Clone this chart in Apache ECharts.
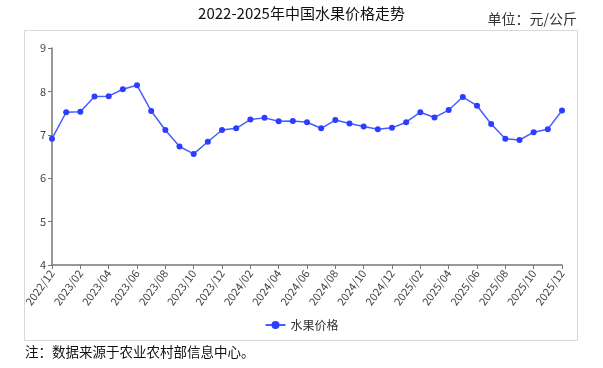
<!DOCTYPE html>
<html>
<head>
<meta charset="utf-8">
<script src="https://cdn.jsdelivr.net/npm/echarts@6/dist/echarts.min.js"></script>
<style>
html,body{margin:0;padding:0;background:#fff;}
#c{width:603px;height:368px;}
</style>
</head>
<body>
<div id="c"></div>
<script>
const titleText = '2022-2025年中国水果价格走势';
const unitText = '单位：元/公斤';
const noteText = '注：数据来源于农业农村部信息中心。';
const seriesName = '水果价格';
const months = [
 '2022/12','2023/01','2023/02','2023/03','2023/04','2023/05','2023/06','2023/07','2023/08','2023/09','2023/10','2023/11',
 '2023/12','2024/01','2024/02','2024/03','2024/04','2024/05','2024/06','2024/07','2024/08','2024/09','2024/10','2024/11',
 '2024/12','2025/01','2025/02','2025/03','2025/04','2025/05','2025/06','2025/07','2025/08','2025/09','2025/10','2025/11','2025/12'
];
const prices = [
 6.91,7.52,7.53,7.88,7.89,8.05,8.14,7.55,7.11,6.73,6.56,6.84,
 7.11,7.15,7.35,7.39,7.31,7.32,7.29,7.15,7.34,7.26,7.19,7.13,
 7.16,7.29,7.52,7.40,7.57,7.87,7.67,7.25,6.91,6.88,7.06,7.13,7.56
];
const yMin = 4, yMax = 9, yStep = 1;

const chart = echarts.init(document.getElementById('c'), null, {renderer:'canvas'});
const font = '"Noto Sans CJK SC", "Noto Sans", sans-serif';
chart.setOption({
  animation:false,
  textStyle:{fontFamily:font},
  graphic:[
    {type:'rect', shape:{x:24.5,y:30.5,width:553,height:310}, style:{fill:'none',stroke:'#d9d9d9',lineWidth:1}, z:-1},
    {type:'text', left:'center', top:6, style:{text:titleText, font:'15px '+font, fill:'#111'}},
    {type:'text', right:26, top:12, style:{text:unitText, font:'14px '+font, fill:'#333'}},
    {type:'text', left:25, top:345, style:{text:noteText, font:'13.5px '+font, fill:'#111'}}
  ],
  legend:{
    data:[seriesName], left:'center', top:314, itemWidth:20, itemHeight:10, itemGap:4,
    textStyle:{fontSize:12,color:'#333',fontFamily:font}
  },
  grid:{left:52, right:41, top:48, bottom:103, containLabel:false},
  xAxis:{
    type:'category', data:months, boundaryGap:false,
    axisLine:{lineStyle:{color:'#777',width:1.5}},
    axisTick:{show:true, interval:1, length:4, lineStyle:{color:'#777'}},
    axisLabel:{interval:1, rotate:54, fontSize:11, color:'#444', margin:6, fontFamily:font}
  },
  yAxis:{
    type:'value', min:yMin, max:yMax, interval:yStep,
    axisLine:{show:true, lineStyle:{color:'#777',width:1.5}},
    axisTick:{show:true, length:4, lineStyle:{color:'#777'}},
    splitLine:{show:false},
    axisLabel:{fontSize:11, color:'#444', margin:6, fontFamily:font}
  },
  series:[{
    name:seriesName, type:'line', data:prices,
    symbol:'circle', symbolSize:6, showSymbol:true,
    itemStyle:{color:'#2b3dff'},
    lineStyle:{color:'#4a5cff', width:1.5}
  }]
});
</script>
</body>
</html>
